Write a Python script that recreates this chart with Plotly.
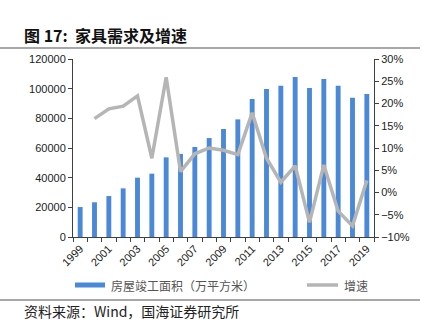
import plotly.graph_objects as go

years = [str(y) for y in range(1999, 2020)]
area = [20200, 23400, 27600, 32800, 40000, 42700, 53700, 56000, 60700, 66700,
        72800, 79300, 93000, 99800, 102000, 107900, 100400, 106500, 102000, 93900, 96400]
growth_years = years[1:]
growth = [16.6, 18.8, 19.4, 21.7, 7.7, 25.9, 4.7, 8.7, 10.0, 9.5,
          8.5, 17.9, 7.7, 2.3, 6.0, -6.7, 6.2, -4.2, -7.5, 2.7]
left_ticks = [0, 20000, 40000, 60000, 80000, 100000, 120000]
right_ticks = [-10, -5, 0, 5, 10, 15, 20, 25, 30]
tick_text = [y if i % 2 == 0 else "" for i, y in enumerate(years)]
left_text = [str(v) for v in left_ticks]
right_text = [(str(v) if v >= 0 else "\u2212" + str(-v)) + "%" for v in right_ticks]

title_bold = "图 17:"
title_rest = "家具需求及增速"
legend_bar = "房屋竣工面积（万平方米）"
legend_line = "增速"
source = "资料来源：Wind，国海证券研究所"

W, H = 430, 329
L, R, T, B = 73, 374, 59, 237

def px(x):
    return (x - L) / (R - L)

def py(y):
    return (B - y) / (B - T)

BAR = "#4a88d8"
LINE = "#b5b5b5"
AX = "#404040"
NUMF = "Liberation Sans, Arial, sans-serif"
CJK = "Noto Sans CJK SC, sans-serif"

fig = go.Figure()
fig.add_trace(go.Bar(x=years, y=area, marker=dict(color=BAR, line=dict(width=0)),
                     name=legend_bar, showlegend=False))
fig.add_trace(go.Scatter(x=growth_years, y=growth, yaxis="y2", mode="lines",
                         line=dict(color=LINE, width=3.5), name=legend_line, showlegend=False))

fig.update_layout(
    width=W, height=H,
    margin=dict(l=L, r=W - R, t=T, b=H - B),
    paper_bgcolor="white", plot_bgcolor="white",
    bargap=0.66,
    font=dict(family=NUMF, size=11, color="#222"),
    xaxis=dict(type="category", tickvals=years, ticktext=tick_text, tickson="boundaries",
               tickangle=-45, ticks="outside", ticklen=4, tickcolor=AX,
               showline=True, linecolor=AX, linewidth=1, showgrid=False,
               tickfont=dict(family=NUMF, size=11, color="#222")),
    yaxis=dict(range=[0, 120000], tickvals=left_ticks, ticktext=left_text, ticks="outside", ticklen=4,
               tickcolor=AX, showline=True, linecolor=AX, linewidth=1, showgrid=False,
               zeroline=False, tickfont=dict(family=NUMF, size=11, color="#222")),
    yaxis2=dict(range=[-10, 30], tickvals=right_ticks, ticktext=right_text, overlaying="y",
                side="right", ticks="outside", ticklen=4, tickcolor=AX, showline=True,
                linecolor=AX, linewidth=1, showgrid=False, zeroline=False,
                tickfont=dict(family=NUMF, size=11, color="#222")),
)

shapes = [
    dict(type="line", xref="paper", yref="paper", x0=px(0), x1=px(420), y0=py(48), y1=py(48),
         line=dict(color="#8a8a8a", width=1.5)),
    dict(type="line", xref="paper", yref="paper", x0=px(0), x1=px(420), y0=py(300), y1=py(300),
         line=dict(color="#8a8a8a", width=1.5)),
    dict(type="rect", xref="paper", yref="paper", x0=px(75), x1=px(105), y0=py(287.5), y1=py(282.5),
         fillcolor=BAR, line=dict(width=0)),
    dict(type="line", xref="paper", yref="paper", x0=px(307), x1=px(338), y0=py(285), y1=py(285),
         line=dict(color=LINE, width=3.5)),
]
fig.update_layout(shapes=shapes)

ann = [
    dict(text="<b>" + title_bold + "</b>  <b>" + title_rest + "</b>", x=px(22), y=py(35),
         xanchor="left", yanchor="middle", font=dict(family=CJK, size=16, color="#111")),
    dict(text=legend_bar, x=px(109), y=py(285), xanchor="left", yanchor="middle",
         font=dict(family=CJK, size=12, color="#555")),
    dict(text=legend_line, x=px(342), y=py(285), xanchor="left", yanchor="middle",
         font=dict(family=CJK, size=12, color="#555")),
    dict(text=source, x=px(22), y=py(311), xanchor="left", yanchor="middle",
         font=dict(family=CJK, size=14, color="#222")),
]
for a in ann:
    a.update(xref="paper", yref="paper", showarrow=False)
fig.update_layout(annotations=ann)

fig.write_html("out.html")
